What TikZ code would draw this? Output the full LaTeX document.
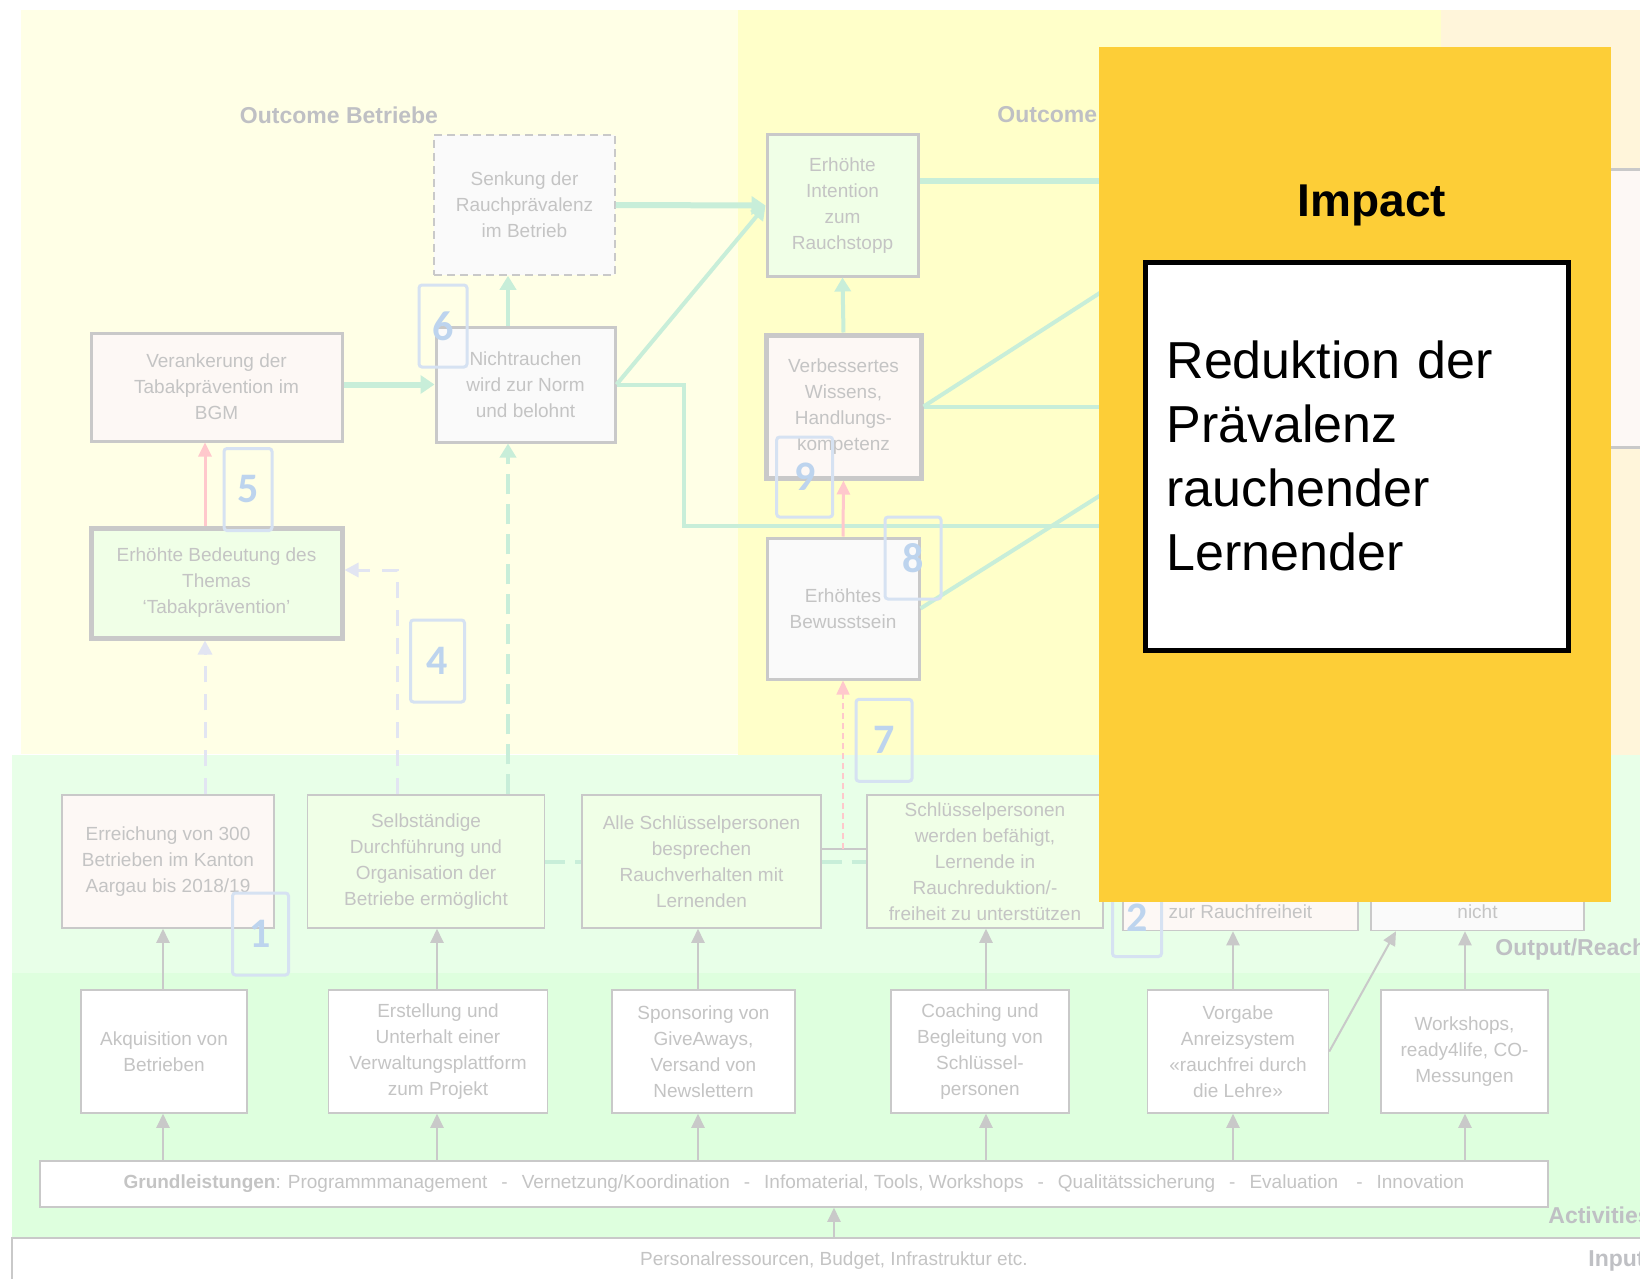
\documentclass[tikz,border=0pt]{standalone}
\usepackage{fontspec}
\setmainfont{Liberation Sans}
\newfontfamily\numfont{Carlito}
\usepackage{tikz}
\usetikzlibrary{positioning}
\usetikzlibrary{arrows.meta}
\usetikzlibrary{calc}
\definecolor{paleyellow}{HTML}{FFFFE6}
\definecolor{lightyellow}{HTML}{FFFFC9}
\definecolor{paleorange}{HTML}{FFF5DA}
\definecolor{reachgreen}{HTML}{E8FFE8}
\definecolor{actgreen}{HTML}{DEFFDE}
\definecolor{impactyellow}{HTML}{FDCE37}
\definecolor{fadetext}{HTML}{C4C4C4}
\definecolor{fadeline}{HTML}{C9C9C9}
\definecolor{mintline}{HTML}{C8EED9}
\definecolor{pinkline}{HTML}{FFC8CC}
\definecolor{lavline}{HTML}{E2E5F2}
\definecolor{numblue}{HTML}{D6E2F2}
\definecolor{numtext}{HTML}{BDD4EE}
\definecolor{labelgray}{HTML}{BFC0C4}
\definecolor{boxpink}{HTML}{FDF8F5}
\definecolor{boxgreen}{HTML}{F0FFE7}
\definecolor{boxwhite}{HTML}{FAFAFA}
\newcommand{\boxfont}{\fontsize{9.5}{13}\selectfont}
\tikzset{
	base box/.style={rectangle,draw=fadeline,text=fadetext,font=\boxfont,align=center,inner sep=2pt},
	thin box/.style={base box,line width=0.75pt},
	mid box/.style={base box,line width=1.5pt},
	heavy box/.style={base box,line width=2.5pt},
	out box/.style={thin box,minimum width=#1,minimum height=66.5pt},
	act box/.style={thin box,fill=white,minimum width=#1,minimum height=61.5pt},
	num box/.style={draw=numblue,line width=1.5pt,rounded corners=1.5pt,text=numtext,font=\numfont\bfseries\fontsize{21}{21}\selectfont,minimum width=28pt,minimum height=41pt,inner sep=0pt},
	section label/.style={text=labelgray,font=\bfseries\fontsize{11.5}{13}\selectfont,inner sep=0pt},
	mint thick/.style={draw=mintline,line width=3pt,-{Triangle[width=9pt,length=7pt]}},
	mint mid/.style={draw=mintline,line width=2pt,-{Triangle[width=8pt,length=7pt]}},
	mint dashed/.style={draw=mintline,line width=2pt,dash pattern=on 10pt off 5pt,-{Triangle[width=8pt,length=7pt]}},
	lav dashed/.style={draw=lavline,line width=1.5pt,dash pattern=on 8pt off 6pt,-{Triangle[width=7pt,length=7pt]}},
	pink arrow/.style={draw=pinkline,line width=1.5pt,-{Triangle[width=6.5pt,length=7pt]}},
	pink dashed/.style={draw=pinkline,line width=0.75pt,dash pattern=on 3pt off 2pt,-{Triangle[width=6.5pt,length=7pt]}},
	gray arrow/.style={draw=fadeline,line width=1pt,-{Triangle[width=6.5pt,length=7pt]}},
}

\begin{document}
\begin{tikzpicture}[x=0.5pt,y=-0.5pt]
	\useasboundingbox (0,0) rectangle (1640,1279);
	% bands
	\fill[white] (0,0) rectangle (1640,1279);
	\fill[paleyellow] (21,10) rectangle (738,754);
	\fill[lightyellow] (738,10) rectangle (1441,755);
	\fill[paleorange] (1441,10) rectangle (1640,755);
	\fill[reachgreen] (12,755) rectangle (1640,973);
	\fill[actgreen] (12,973) rectangle (1640,1238);

	\node[thin box,fill=white,minimum width=822pt,minimum height=23pt] (input) at (834,1261) {Personalressourcen, Budget, Infrastruktur etc.};
	\node[mid box,fill=boxpink,minimum width=70pt,minimum height=138.5pt] (rbox) at (1660,308.5) {};

	\node[section label] (lbetr) at (339,115) {Outcome Betriebe};
	\node[section label,anchor=west] (llern) at (997,115) {Outcome};
	\node[section label,anchor=west] (lreach) at (1495,950) {Output/Reach};
	\node[section label,anchor=west] (lact) at (1548,1215) {Activities};
	\node[section label,anchor=west] (linp) at (1588,1261) {Input};

	% outcome boxes
	\node[thin box,fill=boxwhite,dash pattern=on 4pt off 2.5pt,minimum width=90.5pt,minimum height=70pt] (senkung) at (524.5,205) {Senkung der\\Rauchprävalenz\\im Betrieb};
	\node[mid box,fill=boxpink,minimum width=125.5pt,minimum height=54pt] (verank) at (216.5,387) {Verankerung der\\Tabakprävention im\\BGM};
	\node[mid box,fill=boxwhite,minimum width=89.5pt,minimum height=57.5pt] (norm) at (525.5,384.5) {Nichtrauchen\\wird zur Norm\\und belohnt};
	\node[heavy box,fill=boxgreen,minimum width=125.5pt,minimum height=55pt] (bedeut) at (216.5,583) {Erhöhte Bedeutung des\\Themas\\‘Tabakprävention’};
	\node[mid box,fill=boxgreen,minimum width=75.5pt,minimum height=70.5pt] (intent) at (842.5,205.5) {Erhöhte\\Intention\\zum\\Rauchstopp};
	\node[heavy box,fill=boxpink,minimum width=77.5pt,minimum height=71.5pt] (wissen) at (843.5,406.5) {Verbessertes\\Wissens,\\Handlungs-\\kompetenz};
	\node[mid box,fill=boxwhite,minimum width=76pt,minimum height=70.5pt] (bewusst) at (843,608.5) {Erhöhtes\\Bewusstsein};

	% output boxes
	\node[out box=106pt,fill=boxpink] (erreich) at (168,861.5) {Erreichung von 300\\Betrieben im Kanton\\Aargau bis 2018/19};
	\node[out box=118.5pt,fill=boxgreen] (selbst) at (426,861.5) {Selbständige\\Durchführung und\\Organisation der\\Betriebe ermöglicht};
	\node[out box=119.5pt,fill=boxgreen] (alle) at (701.5,861.5) {Alle Schlüsselpersonen\\besprechen\\Rauchverhalten mit\\Lernenden};
	\node[out box=118pt,fill=boxgreen] (schluess) at (985,861.5) {Schlüsselpersonen\\werden befähigt,\\Lernende in\\Rauchreduktion/-\\freiheit zu unterstützen};
	\node[out box=117.5pt,fill=boxpink] (rauchfrei) at (1240.5,861.5) {\strut\\\strut\\\strut\\\strut\\zur Rauchfreiheit\strut};
	\node[out box=106.5pt,fill=boxwhite] (nicht) at (1477.5,861.5) {\strut\\\strut\\\strut\\\strut\\nicht\strut};

	% activities
	\node[act box=83pt] (akq) at (164,1051.5) {Akquisition von\\Betrieben};
	\node[act box=109.5pt] (erstell) at (438,1051.5) {Erstellung und\\Unterhalt einer\\Verwaltungsplattform\\zum Projekt};
	\node[act box=91.5pt] (sponsor) at (703.5,1051.5) {Sponsoring von\\GiveAways,\\Versand von\\Newslettern};
	\node[act box=89pt] (coach) at (980,1051.5) {Coaching und\\Begleitung von\\Schlüssel-\\personen};
	\node[act box=90.5pt] (vorgabe) at (1238,1051.5) {Vorgabe\\Anreizsystem\\«rauchfrei durch\\die Lehre»};
	\node[act box=83.5pt] (worksh) at (1464.5,1051.5) {Workshops,\\ready4life, CO-\\Messungen};
	\node[thin box,fill=white,minimum width=754pt,minimum height=23pt] (grund) at (794,1184) {\textbf{Grundleistungen}: Programmmanagement\hspace{7pt}-\hspace{7pt}Vernetzung/Koordination\hspace{7pt}-\hspace{7pt}Infomaterial, Tools, Workshops\hspace{7pt}-\hspace{7pt}Qualitätssicherung\hspace{7pt}-\hspace{7pt}Evaluation\hspace{9pt}-\hspace{7pt}Innovation};

	\coordinate (c0) at (834,0);
	\coordinate (c1) at (163,0);
	\coordinate (c2) at (437,0);
	\coordinate (c3) at (698,0);
	\coordinate (c4) at (986,0);
	\coordinate (c5) at (1233,0);
	\coordinate (c6) at (1465,0);
	\coordinate (c7) at (1396,0);
	\coordinate (colB) at (205,0);
	\coordinate (colS) at (397.5,0);
	\coordinate (colN) at (508,0);
	\coordinate (tap) at (843,849);
	\coordinate (hidA) at (1120,526);
	\coordinate (hidB) at (1120,181);
	\coordinate (hidC) at (1120,406.5);
	\coordinate (hidD) at (1120,280);
	\coordinate (hidE) at (1120,483);

	% outcome links
	\draw[mint thick] (verank.east |- norm.west) -- (norm.west);
	\draw[mint thick] (senkung.east) -- (intent.west);
	\draw[mint mid] (norm.east) -- (intent.west);
	\draw[mint mid,-] (norm.east) -- ++(67,0) |- (hidA);
	\draw[mint mid] (norm.north -| colN) -- (senkung.south -| colN);
	\draw[pink arrow] (bedeut.north -| colB) -- (verank.south -| colB);
	\draw[lav dashed] (erreich.north -| colB) -- (bedeut.south -| colB);
	\draw[lav dashed] (selbst.north -| colS) |- ($(bedeut.east)+(0,-13)$);
	\draw[mint dashed] (selbst.north -| colN) -- (norm.south -| colN);
	\draw[mint dashed,-] (selbst.east) -- (alle.west);
	\draw[mint dashed,-] (alle.east) -- (schluess.west);
	\draw[draw=fadeline,line width=1pt] ([yshift=6.25pt]alle.east) -- ([yshift=6.25pt]schluess.west);
	\draw[pink dashed] (tap) -- (bewusst.south);
	\draw[pink arrow] (bewusst.north) -- (wissen.south);
	\draw[mint mid] (wissen.north) -- (intent.south);
	\draw[mint thick,-] ($(intent.east)+(0,-24.5)$) -- (hidB);
	\draw[mint mid,-] (wissen.east) -- (hidC);
	\draw[mint mid,-] (wissen.east) -- (hidD);
	\draw[mint mid,-] (bewusst.east) -- (hidE);

	% activity links
	\foreach \from/\to/\col in {grund/akq/c1,akq/erreich/c1,grund/erstell/c2,erstell/selbst/c2,grund/sponsor/c3,sponsor/alle/c3,grund/coach/c4,coach/schluess/c4,grund/vorgabe/c5,vorgabe/rauchfrei/c5,grund/worksh/c6,worksh/nicht/c6}
		\draw[gray arrow] (\from.north -| \col) -- (\to.south -| \col);
	\draw[gray arrow] (input.north -| c0) -- (grund.south -| c0);
	\draw[gray arrow] (vorgabe.east) -- (nicht.south -| c7);

	% numbers
	\node[num box,minimum width=24pt] (n6) at (443,326) {6};
	\node[num box,minimum width=24pt] (n5) at (248,489.5) {5};
	\node[num box,minimum width=27pt] (n4) at (437.5,661) {4};
	\node[num box] (n1) at (260.5,934) {1};
	\node[num box,minimum height=40pt] (n9) at (804.7,477) {9};
	\node[num box] (n8) at (913,558) {8};
	\node[num box] (n7) at (884,740.3) {7};
	\node[num box,minimum width=24.5pt,minimum height=38.5pt] (n2) at (1137,918) {2};

	% impact
	\node[fill=impactyellow,minimum width=256pt,minimum height=427.5pt,inner sep=0pt] (impact) at (1355,474.5) {};
	\node[font=\bfseries\fontsize{23}{23}\selectfont,anchor=base,inner sep=0pt] (impacttitle) at (1372,216) {Impact};
	\node[draw=black,line width=2.5pt,fill=white,minimum width=211.5pt,minimum height=194pt,text width=190pt,align=left,font=\fontsize{26}{32}\selectfont,inner xsep=0pt] (impacttext) at (1356.5,456) {Reduktion der\\Prävalenz\\rauchender\\Lernender};
\end{tikzpicture}
\end{document}
